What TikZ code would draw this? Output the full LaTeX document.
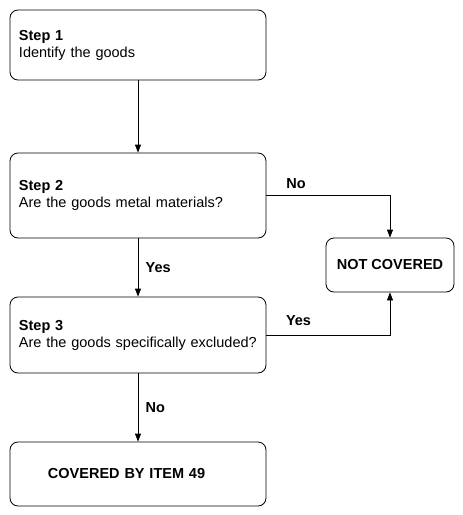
\documentclass[tikz,border=0pt]{standalone}
\usepackage{fontspec}
\setmainfont{Liberation Sans}
\usepackage{tikz}
\usetikzlibrary{arrows.meta,positioning}

\begin{document}
\begin{tikzpicture}[
    x=1pt, y=-1pt,
    font=\fontsize{14.5}{17}\selectfont,
    stepbox/.style={
      draw=black,
      line width=0.8pt,
      rounded corners=8pt,
      minimum width=256pt,
      text width=238pt,
      inner xsep=9pt,
      align=left
    },
    endbox/.style={
      draw=black,
      line width=0.8pt,
      rounded corners=8pt,
      align=center
    },
    flow/.style={-{Triangle[width=6pt,length=8pt]}, line width=0.8pt},
    answer/.style={font=\fontsize{14.5}{17}\selectfont\bfseries}
  ]
    \useasboundingbox (0,0) rectangle (463,515);

    \node[stepbox, minimum height=70pt] (identify) at (138,45)
      {\textbf{Step 1}\\Identify the goods};
    \node[stepbox, minimum height=85pt] (metal) at (138,195.5)
      {\textbf{Step 2}\\Are the goods metal materials?};
    \node[stepbox, minimum height=76pt] (excluded) at (138,335)
      {\textbf{Step 3}\\Are the goods specifically excluded?};
    \node[stepbox, minimum height=64pt] (covered) at (138,474)
      {\hspace*{29pt}\textbf{COVERED BY ITEM 49}};
    \node[endbox, minimum width=128pt, minimum height=54pt] (notcovered) at (390,265)
      {\textbf{NOT COVERED}};

    \draw[flow] (identify) -- (metal);
    \draw[flow] (metal) -- node[answer, right=4pt] {Yes} (excluded);
    \draw[flow] (excluded) -- node[answer, right=4pt] {No} (covered);
    \draw[flow] (metal.east) -| node[answer, pos=0.12, above=3pt] {No} (notcovered);
    \draw[flow] (excluded.east) -| node[answer, pos=0.13, above=6pt] {Yes} (notcovered);
  \end{tikzpicture}
\end{document}
